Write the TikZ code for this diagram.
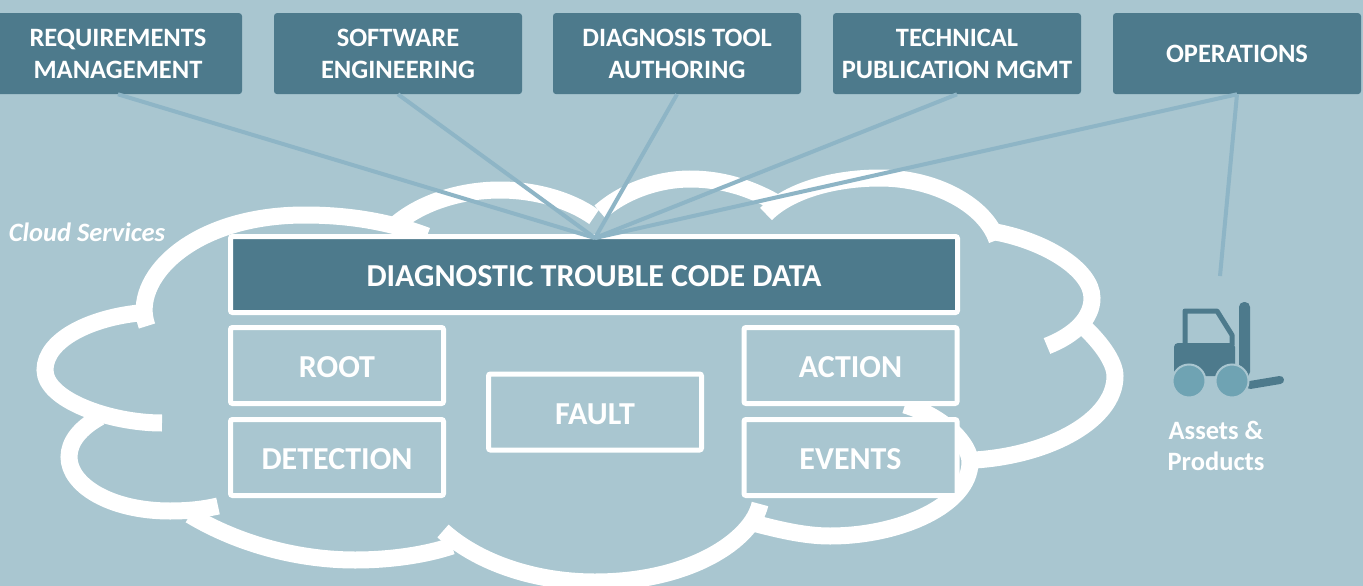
\documentclass[tikz,border=0pt]{standalone}
\usepackage{fontspec}
\setmainfont{Carlito}
\definecolor{bgblue}{HTML}{A9C6D0}
\definecolor{darkblue}{HTML}{4D7A8C}
\definecolor{wheelblue}{HTML}{6FA3B3}
\definecolor{linkblue}{HTML}{8EB5C6}
\tikzset{
  topbox/.style={fill=darkblue,rounded corners=3pt,minimum width=248pt,minimum height=81pt,
    inner sep=0pt,align=center,text=white,font=\fontsize{26.5}{32}\selectfont\bfseries},
  codebox/.style={draw=white,line width=5pt,fill=bgblue,rounded corners=2pt,minimum width=213pt,
    minimum height=76pt,inner sep=0pt,text=white,text height=24.6pt,text depth=0pt,
    font=\fontsize{32}{36}\selectfont\bfseries},
  cloudline/.style={draw=white,line width=17pt},
  linkline/.style={draw=linkblue,line width=4pt},
  whitelabel/.style={text=white,inner sep=0pt,align=center},
}
\begin{document}
\begin{tikzpicture}[x=1pt,y=-1pt]
  \fill[bgblue] (0,0) rectangle (1363,586);
  \useasboundingbox (0,0) rectangle (1363,586);

  \node[topbox] (req) at (118,53.6) {REQUIREMENTS\\MANAGEMENT};
  \node[topbox] (soft) at (398,53.6) {SOFTWARE\\ENGINEERING};
  \node[topbox] (tool) at (677,53.6) {DIAGNOSIS TOOL\\AUTHORING};
  \node[topbox] (pub) at (957,53.6) {TECHNICAL\\PUBLICATION MGMT};
  \node[topbox] (ops) at (1237,53.6) {OPERATIONS};

  \draw[cloudline] (147,326) .. controls (130,280) and (190,215) .. (305,215) .. controls (350,215) and (390,222) .. (427,236);
  \draw[cloudline] (395,225) .. controls (420,203) and (460,190) .. (500,190) .. controls (535,190) and (570,200) .. (594,217);
  \draw[cloudline] (600,212) .. controls (625,190) and (660,179) .. (690,179) .. controls (725,179) and (755,190) .. (780,205);
  \draw[cloudline] (766,214) .. controls (790,190) and (835,178) .. (880,178) .. controls (935,178) and (985,205) .. (997,240);
  \draw[cloudline] (990,231) .. controls (1045,240) and (1092,270) .. (1092,298) .. controls (1092,318) and (1075,335) .. (1047,346);
  \draw[cloudline] (1076,320) .. controls (1100,340) and (1115,362) .. (1115,376) .. controls (1115,420) and (1050,455) .. (975,460);
  \draw[cloudline] (905,405) .. controls (945,417) and (970,445) .. (970,462) .. controls (970,505) and (900,536) .. (830,536) .. controls (805,536) and (780,530) .. (753,523);
  \draw[cloudline] (760,504) .. controls (752,540) and (690,582) .. (595,582) .. controls (530,582) and (475,560) .. (443,531);
  \draw[cloudline] (190,515) .. controls (240,545) and (300,560) .. (355,560) .. controls (390,560) and (425,555) .. (452,546);
  \draw[cloudline] (218,506) .. controls (205,509) and (190,511) .. (170,511) .. controls (110,511) and (69,485) .. (69,457) .. controls (69,442) and (80,428) .. (100,417);
  \draw[cloudline] (162,423) .. controls (110,423) and (45,400) .. (45,370) .. controls (45,340) and (90,318) .. (139,313);

  \node[codebox,fill=darkblue,minimum width=727pt] (dtc) at (594,274.5) {DIAGNOSTIC TROUBLE CODE DATA};
  \node[codebox] (root) at (337,365.5) {ROOT};
  \node[codebox] (detect) at (337,457.5) {DETECTION};
  \node[codebox] (fault) at (595,412) {FAULT};
  \node[codebox] (action) at (850.5,365.5) {ACTION};
  \node[codebox] (events) at (850.5,457.5) {EVENTS};

  \coordinate (hub) at (595,238);
  \coordinate (truck) at (1220,276);
  \draw[linkline] (req.south) -- (hub);
  \draw[linkline] (soft.south) -- (hub);
  \draw[linkline] (tool.south) -- (hub);
  \draw[linkline] (pub.south) -- (hub);
  \draw[linkline] (ops.south) -- (hub);
  \draw[linkline] (ops.south) -- (truck);

  \draw[darkblue,line width=5pt,line join=round] (1185,345) -- (1185,311) -- (1217,311) -- (1232,335) -- (1232,345);
  \fill[darkblue,rounded corners=4pt] (1174,376) -- (1174,343) -- (1235,343) -- (1235,376) -- cycle;
  \fill[darkblue,rounded corners=5pt] (1239,377) -- (1239,302) -- (1250,302) -- (1250,377) -- cycle;
  \draw[darkblue,line width=8pt,line cap=round] (1250,385) -- (1280,380);
  \draw[bgblue,line width=2pt,fill=wheelblue] (1189,381) circle (16.5);
  \draw[bgblue,line width=2pt,fill=wheelblue] (1232,381) circle (16.5);

  \node[whitelabel,font=\fontsize{26.5}{31}\selectfont\bfseries] (assets) at (1216,446) {Assets \&\\Products};
  \node[whitelabel,font=\fontsize{26.5}{31}\selectfont\bfseries\itshape] (cloud) at (87,232) {Cloud Services};
\end{tikzpicture}
\end{document}
